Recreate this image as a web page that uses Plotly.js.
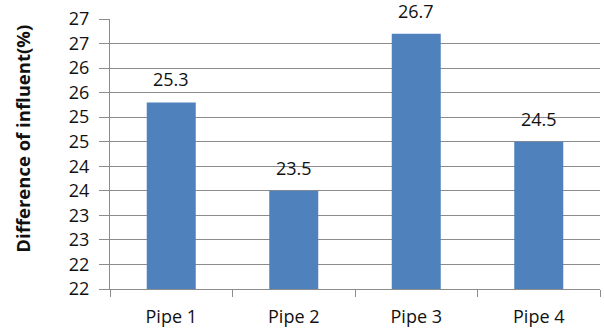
<!DOCTYPE html>
<html>
<head>
<meta charset="utf-8">
<script src="https://cdn.plot.ly/plotly-3.0.1.min.js"></script>
<style>
  html, body { margin: 0; padding: 0; background: #fff; }
  #chart { width: 604px; height: 329px; }
</style>
</head>
<body>
<div id="chart"></div>
<script>
// Categories and measured differences of influent (%)
const pipes = ["Pipe 1", "Pipe 2", "Pipe 3", "Pipe 4"];
const influentDiff = [25.3, 23.5, 26.7, 24.5];

// Gridline positions on the value axis and the whole-number labels shown at them
const yTickVals = [21.5, 22, 22.5, 23, 23.5, 24, 24.5, 25, 25.5, 26, 26.5, 27];
const yTickText = ["22", "22", "23", "23", "24", "24", "25", "25", "26", "26", "27", "27"];

const FONT = "Open Sans, Noto Sans, sans-serif";
const GRID = "#8c8c8c";

const bars = {
  type: "bar",
  x: pipes,
  y: influentDiff,
  marker: { color: "#4f81bd", line: { width: 0 } },
  hoverinfo: "x+y",
  cliponaxis: false
};

// Value labels above each bar
const valueLabels = pipes.map((p, i) => ({
  x: p,
  y: influentDiff[i],
  xref: "x",
  yref: "y",
  text: influentDiff[i].toFixed(1),
  showarrow: false,
  yanchor: "bottom",
  yshift: 9,
  font: { family: FONT, size: 18, color: "#111" }
}));

const layout = {
  width: 604,
  height: 329,
  margin: { l: 110, r: 4, t: 19, b: 40 },
  paper_bgcolor: "#fff",
  plot_bgcolor: "#fff",
  bargap: 0.6,
  showlegend: false,
  xaxis: {
    type: "category",
    showgrid: false,
    showline: true,
    linecolor: GRID,
    linewidth: 1,
    ticks: "outside",
    tickson: "boundaries",
    ticklen: 7,
    tickcolor: GRID,
    ticklabelstandoff: 11,
    tickfont: { family: FONT, size: 18, color: "#111" },
    fixedrange: true
  },
  yaxis: {
    range: [21.5, 27],
    tickmode: "array",
    tickvals: yTickVals,
    ticktext: yTickText,
    showgrid: true,
    gridcolor: GRID,
    gridwidth: 1,
    showline: true,
    linecolor: GRID,
    linewidth: 1,
    ticks: "outside",
    ticklen: 10,
    tickcolor: GRID,
    ticklabelstandoff: 6,
    zeroline: false,
    tickfont: { family: FONT, size: 18, color: "#111" },
    fixedrange: true
  },
  annotations: valueLabels.concat([{
    text: "<b>Difference of influent(%)</b>",
    xref: "paper",
    yref: "paper",
    x: -0.178,
    y: 0.556,
    xanchor: "center",
    yanchor: "middle",
    textangle: -90,
    showarrow: false,
    font: { family: FONT, size: 18.5, color: "#111" }
  }])
};

Plotly.newPlot("chart", [bars], layout, { displayModeBar: false, staticPlot: true });
</script>
</body>
</html>
